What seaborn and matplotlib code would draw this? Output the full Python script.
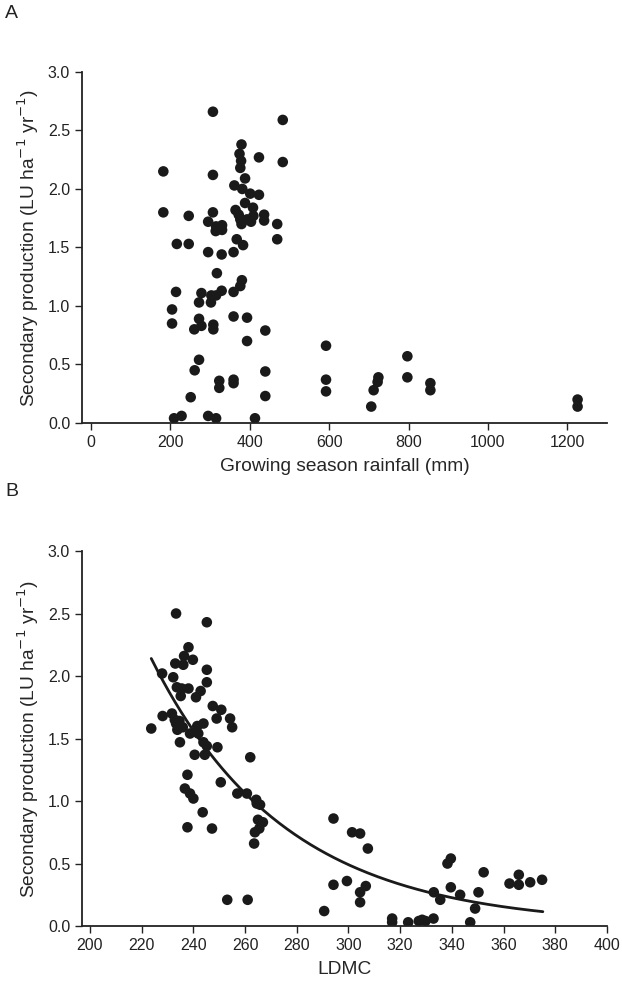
import numpy as np
import pandas as pd
import matplotlib
matplotlib.use("Agg")
import matplotlib.pyplot as plt
import seaborn as sns

sns.set_theme(style="ticks")
plt.rcParams['font.family'] = ['Liberation Sans', 'DejaVu Sans']

# panel A: growing season rainfall (mm) vs secondary production
rain = [307, 483, 379, 374, 378, 376, 423, 483, 182, 307, 388, 361, 381, 401, 423,
        182, 246, 307, 364, 372, 388, 408, 376, 393, 409, 436, 436,
        295, 315, 330, 314, 330, 379, 403, 469, 216, 246, 367, 383, 469,
        295, 329, 359,
        317, 380, 376, 359, 329, 315, 303, 302, 214, 278, 272, 204, 204,
        272, 278, 260, 308, 308, 359, 393, 439, 393, 272, 261, 439,
        323, 323, 359, 359, 251, 439, 209, 228, 295, 315, 413,
        592, 592, 592, 706, 712, 722, 724, 797, 797, 855, 855, 1226, 1226]
prod_a = [2.66, 2.59, 2.38, 2.30, 2.24, 2.18, 2.27, 2.23, 2.15, 2.12, 2.09, 2.03, 2.00, 1.96, 1.95,
          1.80, 1.77, 1.80, 1.82, 1.78, 1.88, 1.84, 1.74, 1.74, 1.77, 1.78, 1.73,
          1.72, 1.68, 1.69, 1.64, 1.65, 1.70, 1.72, 1.70, 1.53, 1.53, 1.57, 1.52, 1.57,
          1.46, 1.44, 1.46,
          1.28, 1.22, 1.17, 1.12, 1.13, 1.09, 1.09, 1.03, 1.12, 1.11, 1.03, 0.97, 0.85,
          0.89, 0.83, 0.80, 0.84, 0.80, 0.91, 0.90, 0.79, 0.70, 0.54, 0.45, 0.44,
          0.36, 0.30, 0.37, 0.34, 0.22, 0.23, 0.04, 0.06, 0.06, 0.04, 0.04,
          0.66, 0.37, 0.27, 0.14, 0.28, 0.35, 0.39, 0.57, 0.39, 0.34, 0.28, 0.20, 0.14]

# panel B: LDMC vs secondary production
ldmc = [233.3, 245.2, 238.1, 236.4, 239.8, 233.0, 236.1, 245.2, 245.2, 227.9, 232.2,
        233.6, 235.5, 238.1, 235.1, 242.8, 241.0, 247.5, 250.8, 249.0, 254.2, 255.0,
        228.1, 231.7, 232.8, 234.6, 223.7,
        233.3, 233.8, 235.9, 238.7, 241.5, 243.9, 241.9,
        234.8, 243.9, 245.2, 249.3, 240.5, 244.4, 262.0, 237.7, 250.6,
        236.7, 238.7, 240.0, 257.0, 260.7, 264.3, 265.8, 264.5, 243.6, 237.7, 247.2,
        265.0, 266.9, 265.5, 263.8, 263.5, 294.2, 294.2, 290.6, 253.1, 261.0,
        301.4, 304.5, 307.5, 299.4, 306.7, 304.5, 304.5, 316.9, 316.9,
        323.1, 327.2, 328.5, 329.8, 332.9, 347.1, 333.0, 335.5, 339.6, 338.3, 339.6,
        343.2, 349.0, 350.3, 352.3, 362.3, 365.9, 365.9, 370.3, 374.9]
prod_b = [2.50, 2.43, 2.23, 2.16, 2.13, 2.10, 2.09, 2.05, 1.95, 2.02, 1.99,
          1.91, 1.90, 1.90, 1.84, 1.88, 1.83, 1.76, 1.73, 1.66, 1.66, 1.59,
          1.68, 1.70, 1.65, 1.64, 1.58,
          1.62, 1.57, 1.59, 1.54, 1.60, 1.62, 1.54,
          1.47, 1.47, 1.44, 1.43, 1.37, 1.37, 1.35, 1.21, 1.15,
          1.10, 1.06, 1.02, 1.06, 1.06, 1.01, 0.97, 0.98, 0.91, 0.79, 0.78,
          0.85, 0.83, 0.78, 0.75, 0.66, 0.86, 0.33, 0.12, 0.21, 0.21,
          0.75, 0.74, 0.62, 0.36, 0.32, 0.27, 0.19, 0.06, 0.03,
          0.03, 0.04, 0.05, 0.04, 0.06, 0.03, 0.27, 0.21, 0.31, 0.50, 0.54,
          0.25, 0.14, 0.27, 0.43, 0.34, 0.41, 0.33, 0.35, 0.37]

# exponential fit shown in panel B: y = a * exp(-b * LDMC)
fit_a = 160.5
fit_b = 0.0193
fit_range = [223.7, 375.2]

df_a = pd.DataFrame({'rain': rain, 'prod': prod_a})
df_b = pd.DataFrame({'ldmc': ldmc, 'prod': prod_b})
fit_x = np.linspace(fit_range[0], fit_range[1], 200)
df_fit = pd.DataFrame({'ldmc': fit_x, 'prod': fit_a * np.exp(-fit_b * fit_x)})

fig = plt.figure(figsize=(6.22, 9.98), dpi=100)
ax1 = fig.add_axes([0.1318, 0.5762, 0.844, 0.3517])
ax2 = fig.add_axes([0.1318, 0.0721, 0.844, 0.3758])

ylab = 'Secondary production (LU ha$^{-1}$ yr$^{-1}$)'
dot = dict(color='#1a1a1a', s=58, edgecolor='none', linewidth=0, alpha=1)

sns.scatterplot(data=df_a, x='rain', y='prod', ax=ax1, **dot)
ax1.set_xlim(-23, 1300)
ax1.set_xticks(range(0, 1201, 200))
ax1.set_xlabel('Growing season rainfall (mm)', fontsize=13.8, labelpad=6)

sns.scatterplot(data=df_b, x='ldmc', y='prod', ax=ax2, **dot)
sns.lineplot(data=df_fit, x='ldmc', y='prod', ax=ax2, color='#1a1a1a', linewidth=2)
ax2.set_xlim(196.9, 400)
ax2.set_xticks(range(200, 401, 20))
ax2.set_xlabel('LDMC', fontsize=13.8, labelpad=6)

for ax in (ax1, ax2):
    ax.set_ylim(0, 3.0)
    ax.set_yticks(np.arange(0, 3.01, 0.5))
    ax.set_yticklabels([f'{v:.1f}' for v in np.arange(0, 3.01, 0.5)])
    ax.set_ylabel(ylab, fontsize=13.8, labelpad=5)
    for side in ('top', 'right'):
        ax.spines[side].set_visible(False)
    for side in ('left', 'bottom'):
        ax.spines[side].set_color('#222222')
        ax.spines[side].set_linewidth(1.3)
    ax.tick_params(direction='out', length=5, width=1, colors='#222222', labelsize=11.5)
    ax.set_facecolor('white')

fig.text(0.008, 0.986, 'A', fontsize=14, va='center', color='#222222')
fig.text(0.008, 0.508, 'B', fontsize=14, va='center', color='#222222')

fig.savefig('out.png', dpi=100, facecolor='white')
